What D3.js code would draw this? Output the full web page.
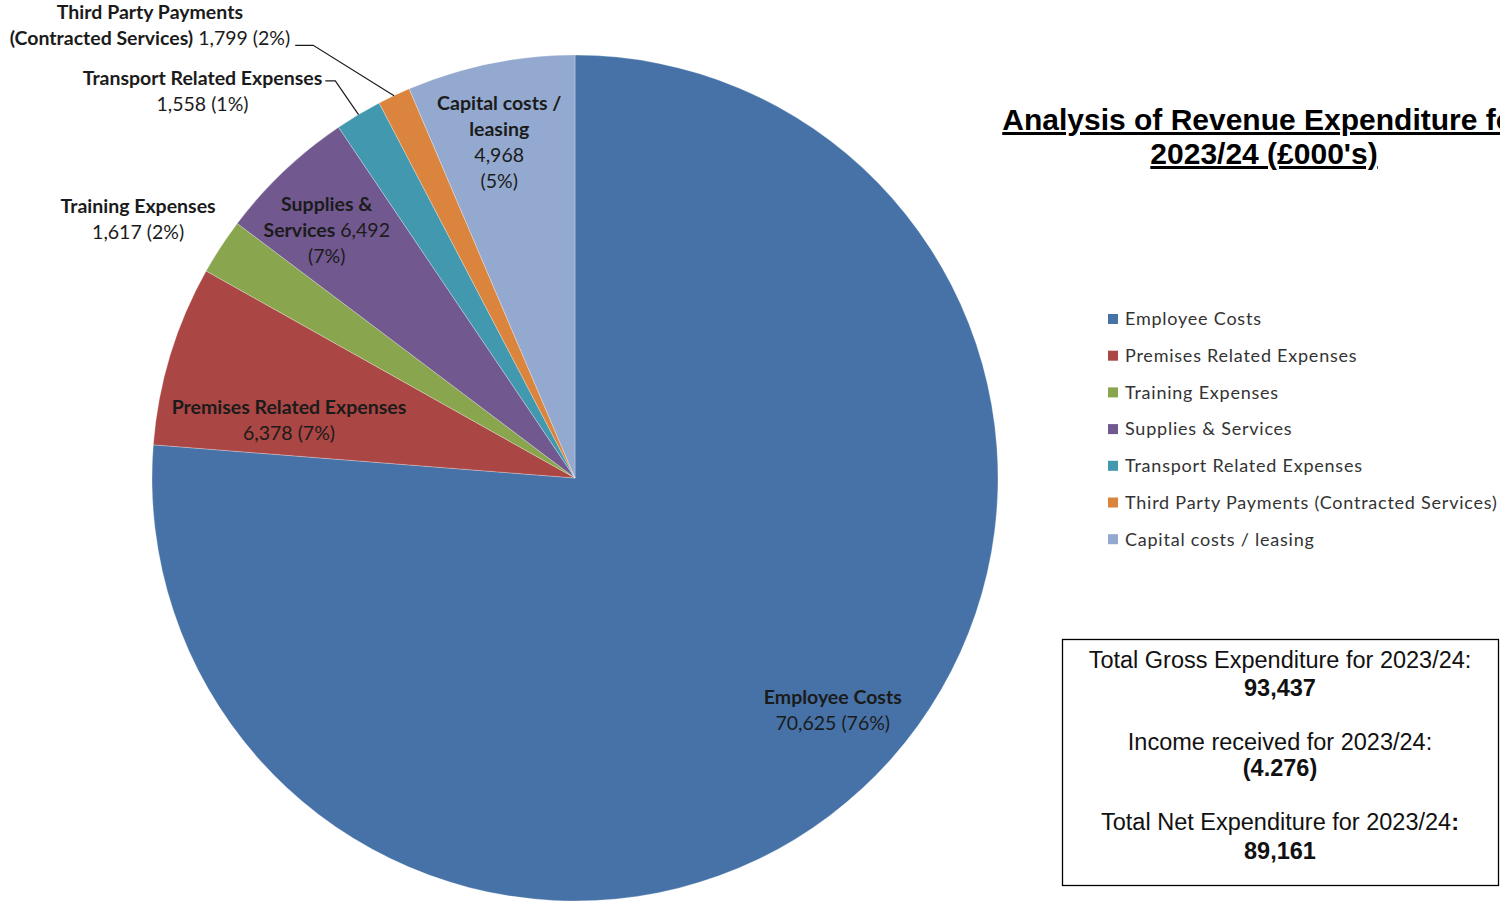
<!DOCTYPE html>
<html>
<head>
<meta charset="utf-8">
<script src="https://cdn.jsdelivr.net/npm/d3@7"></script>
<style>
  html, body { margin: 0; padding: 0; background: #fff; overflow: hidden; }
  svg { display: block; }
</style>
</head>
<body>
<svg id="chart" width="1500" height="904"></svg>
<script>
// ---------------- data ----------------
const categories = [
  "Employee Costs",
  "Premises Related Expenses",
  "Training Expenses",
  "Supplies & Services",
  "Transport Related Expenses",
  "Third Party Payments (Contracted Services)",
  "Capital costs / leasing"
];
// values printed on the chart labels (£000's)
const labelValues = [70625, 6378, 1617, 6492, 1558, 1799, 4968];
const labelPercents = ["76%", "7%", "2%", "7%", "1%", "2%", "5%"];
// slice sizes as drawn in the picture (% of the circle)
const sliceShares = [76.25, 6.89, 2.14, 5.28, 1.78, 1.25, 6.41];
const colors = ["#4672a8", "#aa4643", "#89a54e", "#71588f", "#4198af", "#db843d", "#93a9cf"];

const titleLines = ["Analysis of Revenue Expenditure for", "2023/24 (£000's)"];
const summaryLines = [
  [["Total Gross Expenditure for 2023/24:", 400]],
  [["93,437", 700]],
  [["Income received for 2023/24:", 400]],
  [["(4.276)", 700]],
  [["Total Net Expenditure for 2023/24", 400], [":", 700]],
  [["89,161", 700]]
];

// ---------------- layout ----------------
const W = 1500, H = 904;
const cx = 575, cy = 478, R = 423;
const svg = d3.select("#chart");
const fmt = d3.format(",");
const labelFont = "Lato, 'Open Sans', 'DejaVu Sans', sans-serif";
const labelSize = 19.5;

const pie = d3.pie().sort(null).value(d => d.share).startAngle(0).endAngle(2 * Math.PI);
const data = categories.map((c, i) => ({
  name: c, share: sliceShares[i], value: labelValues[i], pct: labelPercents[i], color: colors[i]
}));
const arcs = pie(data);
const arc = d3.arc().innerRadius(0).outerRadius(R);

const g = svg.append("g").attr("transform", `translate(${cx},${cy})`);
g.selectAll("path.slice").data(arcs).enter().append("path")
  .attr("class", "slice")
  .attr("d", arc)
  .attr("fill", d => d.data.color)
  .attr("stroke", "rgba(255,255,255,0.35)")
  .attr("stroke-width", 0.8);

// label line structures: each line is a list of [text, bold]
function labelLinesFor(i) {
  const v = fmt(labelValues[i]), p = "(" + labelPercents[i] + ")";
  switch (i) {
    case 0: return [[["Employee Costs", true]], [[v + " " + p, false]]];
    case 1: return [[["Premises Related Expenses", true]], [[v + " " + p, false]]];
    case 2: return [[["Training Expenses", true]], [[v + " " + p, false]]];
    case 3: return [[["Supplies &", true]], [["Services", true], [" " + v, false]], [[p, false]]];
    case 4: return [[["Transport Related Expenses", true]], [[v + " " + p, false]]];
    case 5: return [[["Third Party Payments", true]], [["(Contracted Services)", true], [" " + v + " " + p, false]]];
    case 6: return [[["Capital costs /", true]], [["leasing", true]], [[v, false]], [[p, false]]];
  }
}
// label placement: polar angle (deg clockwise from top) & radius factor
const labelPolar = [[132, 0.82], [281.5, 0.69], [300.6, 1.2], [315, 0.83], [316.1, 1.27], [316.8, 1.468], [347.3, 0.815]];
const lineH = 26;

function polar(deg, r) {
  const a = deg * Math.PI / 180;
  return [cx + r * Math.sin(a), cy - r * Math.cos(a)];
}

const labelG = svg.append("g");
const labelNodes = [];
arcs.forEach((d, i) => {
  const lines = labelLinesFor(i);
  const [lx, ly] = polar(labelPolar[i][0], labelPolar[i][1] * R);
  const t = labelG.append("text")
    .attr("font-family", labelFont)
    .attr("font-size", labelSize)
    .attr("fill", "#1b1b1b")
    .attr("text-anchor", "middle");
  const y0 = ly - (lines.length - 1) * lineH / 2;
  lines.forEach((ln, li) => {
    ln.forEach((seg, si) => {
      const ts = t.append("tspan")
        .attr("font-weight", seg[1] ? 700 : 400)
        .text(seg[0]);
      if (si === 0) ts.attr("x", lx).attr("y", y0 + li * lineH).attr("dy", "0.35em");
    });
  });
  labelNodes.push(t);
});

// leader lines for the outside labels of small slices (Transport, Third Party)
[4, 5].forEach(i => {
  const node = labelNodes[i].node();
  const [lx, ly] = polar(labelPolar[i][0], labelPolar[i][1] * R);
  const tspans = node.querySelectorAll("tspan");
  let endX;
  if (i === 4) {
    endX = lx + tspans[0].getComputedTextLength() / 2 + 3;
  } else {
    endX = lx + (tspans[1].getComputedTextLength() + tspans[2].getComputedTextLength()) / 2 + 5;
  }
  const mid = (arcs[i].startAngle + arcs[i].endAngle) / 2 * 180 / Math.PI;
  const [ex, ey] = polar(mid, R);
  const yStart = (i === 4) ? ly - lineH / 2 + 3 : ly + lineH / 2 + 7;
  svg.append("path")
    .attr("d", d3.line()([[endX, yStart], [endX + (i === 4 ? 10 : 18), yStart], [ex, ey]]))
    .attr("fill", "none")
    .attr("stroke", "#1b1b1b")
    .attr("stroke-width", 1.2);
});

// ---------------- title ----------------
const titleG = svg.append("text")
  .attr("font-family", "'Liberation Sans', Arial, sans-serif")
  .attr("font-weight", 700)
  .attr("font-size", 30)
  .attr("fill", "#000")
  .attr("text-anchor", "middle")
  .attr("text-decoration", "underline");
titleLines.forEach((t, i) => {
  titleG.append("tspan").attr("x", 1264).attr("y", 130 + i * 34).text(t);
});

// ---------------- legend ----------------
const legend = svg.append("g").attr("transform", "translate(1108,319)");
const legRow = 36.7;
categories.forEach((c, i) => {
  const row = legend.append("g").attr("transform", `translate(0,${i * legRow})`);
  row.append("rect").attr("x", 0).attr("y", -5).attr("width", 10).attr("height", 10).attr("fill", colors[i]);
  row.append("text").attr("x", 17).attr("y", 0).attr("dy", "0.35em")
    .attr("font-family", labelFont)
    .attr("font-size", 18)
    .attr("letter-spacing", 0.77)
    .attr("fill", "#333")
    .text(c);
});

// ---------------- summary box ----------------
svg.append("rect")
  .attr("x", 1062.5).attr("y", 639.5).attr("width", 436).attr("height", 246)
  .attr("fill", "#fff").attr("stroke", "#000").attr("stroke-width", 1.3);
const boxYs = [660, 688, 742, 768, 822, 851];
summaryLines.forEach((ln, i) => {
  const t = svg.append("text")
    .attr("x", 1280).attr("y", boxYs[i]).attr("dy", "0.35em")
    .attr("text-anchor", "middle")
    .attr("font-family", "'Liberation Sans', Arial, sans-serif")
    .attr("font-size", 23.5)
    .attr("fill", "#111");
  ln.forEach(seg => t.append("tspan").attr("font-weight", seg[1]).text(seg[0]));
});
</script>
</body>
</html>
